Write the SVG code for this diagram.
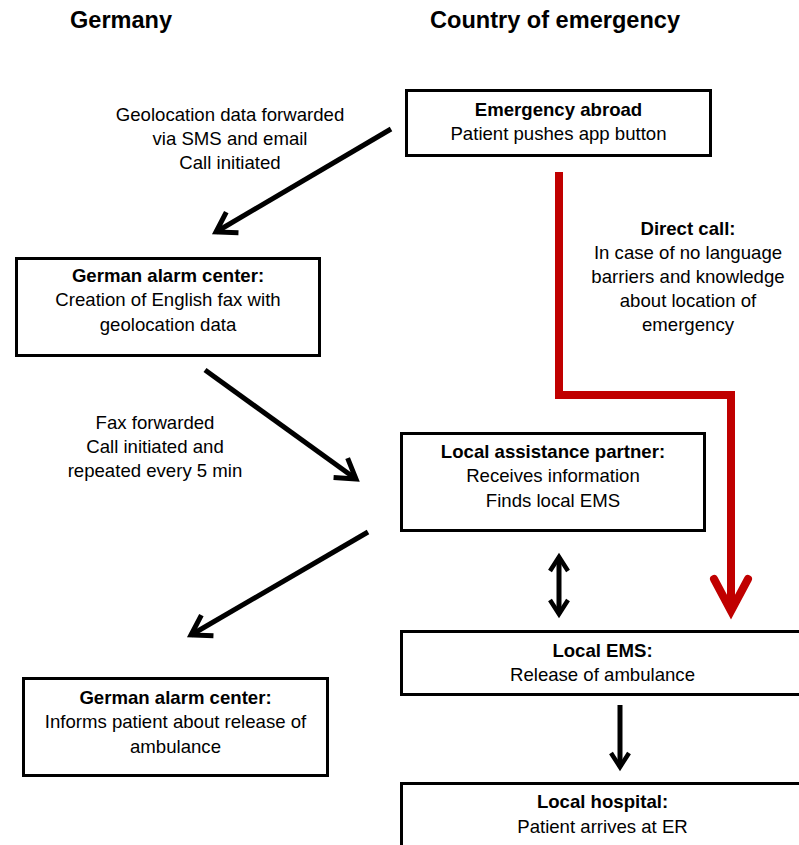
<svg xmlns="http://www.w3.org/2000/svg" width="799" height="845" viewBox="0 0 799 845">
<defs>
<style>
text{font-family:"Liberation Sans",Arial,sans-serif;font-size:18.6px;fill:#000;text-anchor:middle}
.b{font-weight:bold}
.h{font-weight:bold;font-size:24px;text-anchor:start}
.box{fill:#fff;stroke:#000;stroke-width:3}
.blk{fill:none;stroke:#000;stroke-width:5}
.red{fill:none;stroke:#C00000;stroke-width:8}
</style>
<marker id="ah" markerUnits="userSpaceOnUse" orient="auto-start-reverse" markerWidth="40" markerHeight="40" refX="0" refY="0" viewBox="-30 -20 40 40" overflow="visible">
<path d="M-19,-12 L0,0 L-19,12" fill="none" stroke="#000" stroke-width="5"/>
</marker>
<marker id="ahs" markerUnits="userSpaceOnUse" orient="auto-start-reverse" overflow="visible" refX="0" refY="0" viewBox="-30 -20 40 40" markerWidth="40" markerHeight="40">
<path d="M-14,-9 L0,0 L-14,9" fill="none" stroke="#000" stroke-width="4.5"/>
</marker>
<marker id="ahr" markerUnits="userSpaceOnUse" orient="auto" overflow="visible" refX="0" refY="0" viewBox="-40 -30 50 60" markerWidth="50" markerHeight="60">
<path d="M-32,-17 L0,0 L-32,17" fill="none" stroke="#C00000" stroke-width="8" stroke-linecap="round"/>
</marker>
</defs>

<g id="headers">
<text class="h" x="70" y="28" textLength="102" lengthAdjust="spacingAndGlyphs">Germany</text>
<text class="h" x="430" y="28" textLength="250" lengthAdjust="spacingAndGlyphs">Country of emergency</text>
</g>

<g id="connectors">
<line class="blk" x1="391" y1="129" x2="216" y2="232" marker-end="url(#ah)"/>
<line class="blk" x1="205" y1="370" x2="356" y2="479" marker-end="url(#ah)"/>
<line class="blk" x1="368" y1="532" x2="191" y2="635" marker-end="url(#ah)"/>
<line class="blk" x1="559" y1="557" x2="559" y2="614" marker-start="url(#ahs)" marker-end="url(#ahs)"/>
<line class="blk" x1="620" y1="705" x2="620" y2="767" stroke-width="4.5" marker-end="url(#ahs)"/>
<polyline class="red" points="559,172 559,395 731,395 731,611" marker-end="url(#ahr)"/>
<g id="label-geo">
<text x="230" y="121">Geolocation data forwarded</text>
<text x="230" y="145">via SMS and email</text>
<text x="230" y="169">Call initiated</text>
</g>
<g id="label-fax">
<text x="155" y="429">Fax forwarded</text>
<text x="155" y="453">Call initiated and</text>
<text x="155" y="477">repeated every 5 min</text>
</g>
<g id="label-direct">
<text class="b" x="688" y="235">Direct call:</text>
<text x="688" y="259">In case of no language</text>
<text x="688" y="283">barriers and knowledge</text>
<text x="688" y="307">about location of</text>
<text x="688" y="331">emergency</text>
</g>
</g>

<g id="emergency-abroad">
<rect class="box" x="406.5" y="90.5" width="304" height="65"/>
<text class="b" x="558.5" y="116">Emergency abroad</text>
<text x="558.5" y="139.5">Patient pushes app button</text>
</g>

<g id="german-alarm-center-1">
<rect class="box" x="16.5" y="258.5" width="303" height="97"/>
<text class="b" x="168" y="282">German alarm center:</text>
<text x="168" y="306">Creation of English fax with</text>
<text x="168" y="331">geolocation data</text>
</g>

<g id="local-assistance-partner">
<rect class="box" x="401.5" y="433.5" width="303" height="97"/>
<text class="b" x="553" y="458">Local assistance partner:</text>
<text x="553" y="482">Receives information</text>
<text x="553" y="507">Finds local EMS</text>
</g>

<g id="local-ems">
<rect class="box" x="401.5" y="631.5" width="403" height="63"/>
<text class="b" x="602.5" y="657">Local EMS:</text>
<text x="602.5" y="681">Release of ambulance</text>
</g>

<g id="german-alarm-center-2">
<rect class="box" x="23.5" y="678.5" width="304" height="97"/>
<text class="b" x="175.5" y="704">German alarm center:</text>
<text x="175.5" y="728">Informs patient about release of</text>
<text x="175.5" y="753">ambulance</text>
</g>

<g id="local-hospital">
<rect class="box" x="401.5" y="783.5" width="403" height="70"/>
<text class="b" x="602.5" y="808">Local hospital:</text>
<text x="602.5" y="833">Patient arrives at ER</text>
</g>
</svg>
